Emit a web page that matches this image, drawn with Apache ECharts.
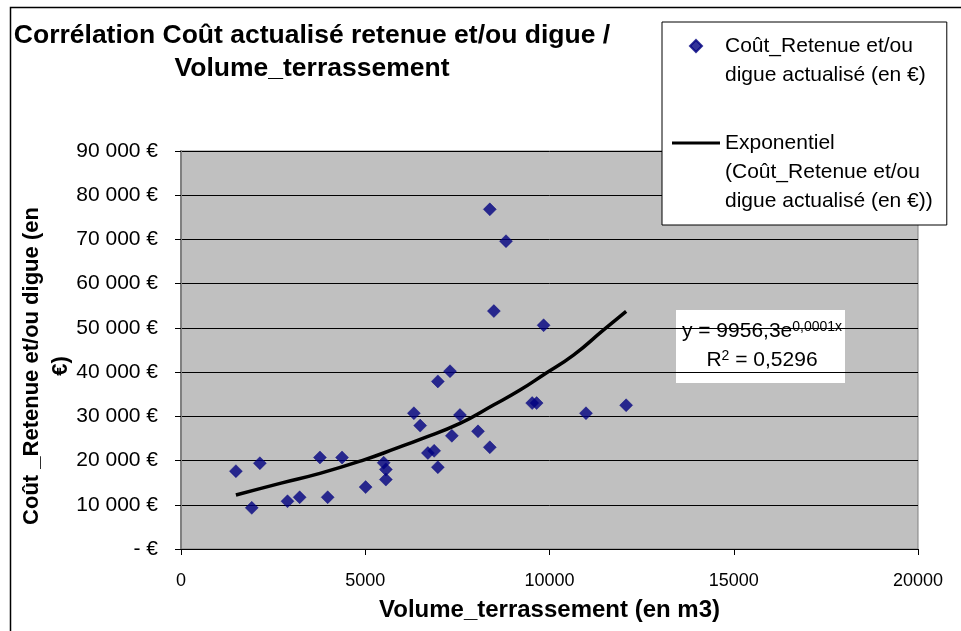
<!DOCTYPE html>
<html>
<head>
<meta charset="utf-8">
<script src="https://cdn.jsdelivr.net/npm/echarts@6/dist/echarts.min.js"></script>
<style>
  html, body { margin: 0; padding: 0; background: #fff; }
  #main { width: 961px; height: 631px; }
</style>
</head>
<body>
<div id="main"></div>
<script>
// volume terrassement (m3) / cout actualise (EUR)
const volumes = [1490, 1920, 2140, 2890, 3220, 3770, 3980, 4370, 5010, 5500,
  5560, 5560, 6320, 6490, 6700, 6870, 6970, 6970, 7300, 7350,
  7570, 8060, 8380, 8380, 8820, 8490, 9840, 9530, 9650, 10990, 12080]
const costs = [17600, 9300, 19400, 10800, 11700, 20700, 11700, 20700, 14000, 19500,
  18000, 15700, 30700, 27900, 21700, 22200, 37900, 18500, 40200, 25600,
  30300, 26600, 23000, 76800, 69600, 53800, 50600, 33000, 33000, 30700, 32500]

// courbe de tendance exponentielle
const trendX = [1490, 2690, 3770, 4950, 5850, 6490, 7570, 8480, 9200, 9830, 10650, 11460, 12080]
const trendY = [12200, 14850, 17100, 20100, 22800, 24800, 28400, 32550, 35950, 39350, 43850, 49500, 53750]

const yTicks = [0, 10000, 20000, 30000, 40000, 50000, 60000, 70000, 80000, 90000]
const xTicks = [0, 5000, 10000, 15000, 20000]

const serieName = 'Coût_Retenue et/ou\ndigue actualisé (en €)'
const trendName = 'Exponentiel\n(Coût_Retenue et/ou\ndigue actualisé (en €))'

const chart = echarts.init(document.getElementById('main'))

const font = 'Arial, "Liberation Sans", sans-serif'

const option = {
  animation: false,
  title: {
    text: 'Corrélation Coût actualisé retenue et/ou digue /\nVolume_terrassement',
    left: 312,
    top: 19,
    padding: 0,
    textAlign: 'center',
    textStyle: {
      fontFamily: font,
      fontWeight: 'bold',
      fontSize: 26.5,
      lineHeight: 33,
      color: '#000'
    }
  },
  legend: {
    orient: 'vertical',
    left: 662,
    top: 22,
    itemWidth: 48,
    itemHeight: 12,
    itemGap: -19,
    padding: [-19.5, 14, 9.5, 10],
    backgroundColor: '#fff',
    borderColor: '#000',
    borderWidth: 1,
    borderRadius: 0,
    textStyle: {
      fontFamily: font,
      fontSize: 21,
      lineHeight: 29,
      color: '#000'
    },
    formatter: function (name) {
      // lignes vides au-dessus pour aligner le symbole sur la premiere ligne
      const n = name.split('\n').length
      return '\n'.repeat(n - 1) + name
    },
    data: [
      {name: serieName, icon: 'path://M0,-1L1,0L0,1L-1,0Z'},
      {name: trendName, icon: 'path://M0,0L48,0L48,3L0,3Z'}
    ]
  },
  grid: {
    left: 181,
    right: 43,
    top: 151,
    bottom: 82,
    outerBoundsMode: 'none',
    show: true,
    backgroundColor: '#c0c0c0',
    borderColor: '#808080',
    borderWidth: 1
  },
  xAxis: {
    type: 'value',
    min: xTicks[0],
    max: xTicks[xTicks.length - 1],
    interval: 5000,
    name: 'Volume_terrassement (en m3)',
    nameLocation: 'middle',
    nameGap: 49,
    nameTextStyle: {fontFamily: font, fontWeight: 'bold', fontSize: 24, color: '#000'},
    axisLine: {show: true, onZero: false, lineStyle: {color: '#000', width: 1}},
    axisTick: {show: true, inside: false, length: 6, lineStyle: {color: '#000'}},
    axisLabel: {fontFamily: font, fontSize: 18, color: '#000', margin: 23, formatter: v => String(v)},
    splitLine: {show: false}
  },
  yAxis: {
    type: 'value',
    min: yTicks[0],
    max: yTicks[yTicks.length - 1],
    interval: 10000,
    name: 'Coût _Retenue et/ou digue (en\n€)',
    nameLocation: 'middle',
    nameRotate: 90,
    nameMoveOverlap: false,
    nameGap: 106,
    nameTextStyle: {
      fontFamily: font, fontWeight: 'bold', fontSize: 22, lineHeight: 29, color: '#000',
      padding: [0, 32, 0, 0]
    },
    axisLine: {show: true, lineStyle: {color: '#808080', width: 2}},
    axisTick: {show: true, inside: false, length: 6, lineStyle: {color: '#000'}},
    axisLabel: {
      fontFamily: font, fontSize: 21, color: '#000', margin: 23,
      formatter: function (v) {
        if (v === 0) return '- €'
        return (v / 1000) + ' 000 €'
      }
    },
    splitLine: {show: true, lineStyle: {color: '#000', width: 1}}
  },
  series: [
    {
      name: serieName,
      type: 'scatter',
      symbol: 'diamond',
      symbolSize: 13,
      itemStyle: {color: '#000080', borderColor: '#000080', borderWidth: 0.5},
      data: volumes.map((v, i) => [v, costs[i]]),
      z: 3
    },
    {
      name: trendName,
      type: 'line',
      smooth: true,
      symbol: 'none',
      lineStyle: {color: '#000', width: 3.5},
      itemStyle: {color: '#000'},
      data: trendX.map((v, i) => [v, trendY[i]]),
      z: 4
    }
  ],
  graphic: [
    {
      type: 'rect',
      left: 8, top: 5,
      shape: {width: 1000, height: 700},
      style: {fill: null, stroke: '#000', lineWidth: 1.5},
      silent: true,
      z: 100
    },
    {
      type: 'group',
      left: 676, top: 310,
      z: 100,
      children: [
        {type: 'rect', shape: {x: 0, y: 0, width: 169, height: 73}, style: {fill: '#fff'}},
        {
          type: 'text',
          x: 86, y: 36,
          style: {
            text: '{n|y = 9956,3e}{s|0,0001x}\n{n|R}{s|2}{n| = 0,5296}',
            align: 'center',
            verticalAlign: 'middle',
            rich: {
              n: {fontFamily: font, fontSize: 21, color: '#000', lineHeight: 29},
              s: {fontFamily: font, fontSize: 14, color: '#000', lineHeight: 29, padding: [0, 0, 9, 0]}
            }
          }
        }
      ]
    }
  ]
}

chart.setOption(option)
</script>
</body>
</html>
